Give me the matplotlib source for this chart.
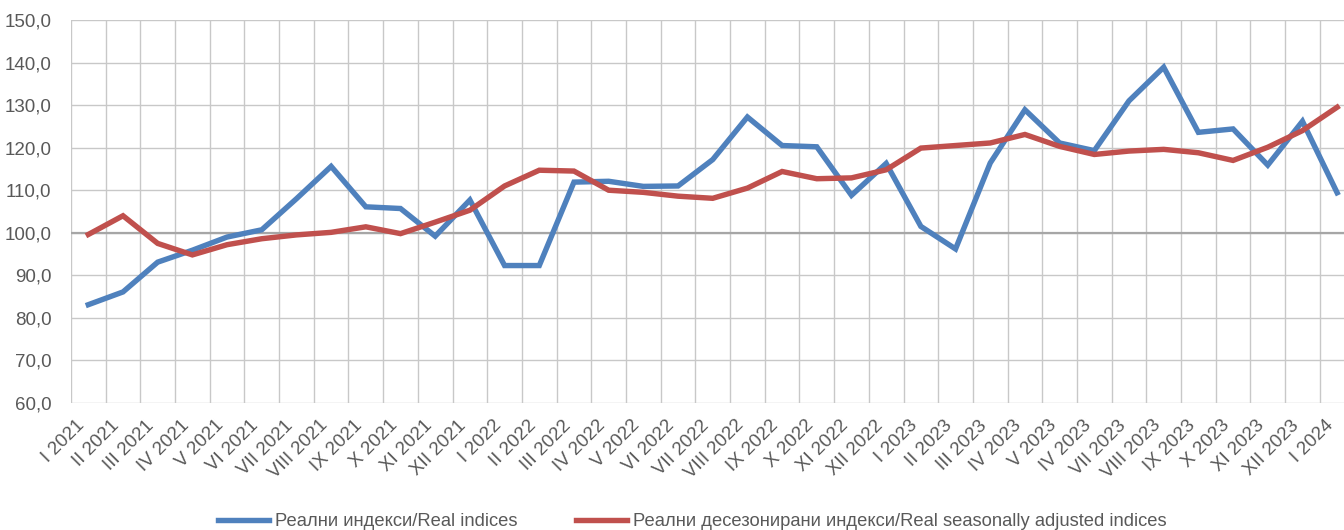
import matplotlib
matplotlib.use("Agg")
import matplotlib.pyplot as plt
from matplotlib.ticker import FuncFormatter, MultipleLocator

plt.rcParams.update({"font.family": ["Liberation Sans", "DejaVu Sans"],
                     "font.size": 13.5})

months = ["I 2021", "II 2021", "III 2021", "IV 2021", "V 2021", "VI 2021", "VII 2021",
          "VIII 2021", "IX 2021", "X 2021", "XI 2021", "XII 2021",
          "I 2022", "II 2022", "III 2022", "IV 2022", "V 2022", "VI 2022", "VII 2022",
          "VIII 2022", "IX 2022", "X 2022", "XI 2022", "XII 2022",
          "I 2023", "II 2023", "III 2023", "IV 2023", "V 2023", "IV 2023", "VII 2023",
          "VIII 2023", "IX 2023", "X 2023", "XI 2023", "XII 2023", "I 2024"]
real = [83.1, 86.1, 93.1, 95.9, 99.0, 100.7, 108.0, 115.6, 106.1, 105.7, 99.2, 107.7,
        92.3, 92.3, 111.9, 112.1, 110.9, 111.0, 117.2, 127.2, 120.5, 120.2, 108.8, 116.3,
        101.5, 96.2, 116.4, 128.9, 121.1, 119.3, 131.0, 138.9, 123.6, 124.4, 115.9, 126.2,
        109.4]
seas_adj = [99.6, 104.0, 97.5, 94.8, 97.2, 98.6, 99.5, 100.1, 101.4, 99.8, 102.5, 105.3,
            111.0, 114.7, 114.5, 110.0, 109.5, 108.6, 108.1, 110.5, 114.4, 112.7, 112.9, 114.8,
            119.9, 120.5, 121.1, 123.1, 120.3, 118.4, 119.2, 119.6, 118.8, 117.0, 120.1, 124.0,
            129.5]

BLUE, RED, TXT = "#4f81bd", "#c0504d", "#595959"

fig = plt.figure(figsize=(13.44, 5.30), dpi=100)
ax = fig.add_axes([0.0528, 0.2396, 0.955, 0.7227])
x = range(len(months))
ax.plot(x, real, color=BLUE, lw=3.9, solid_joinstyle="miter", label="Реални индекси/Real indices", zorder=3)
ax.plot(x, seas_adj, color=RED, lw=3.9, solid_joinstyle="miter",
        label="Реални десезонирани индекси/Real seasonally adjusted indices", zorder=3)

ax.set_xlim(-0.5, len(months) - 0.5)
ax.set_ylim(60, 150)
ax.yaxis.set_major_locator(MultipleLocator(10))
ax.yaxis.set_major_formatter(FuncFormatter(lambda v, p: f"{v:.1f}".replace(".", ",")))
ax.set_xticks(list(x))
ax.set_xticklabels(months, rotation=45, ha="right", rotation_mode="default")
ax.set_xticks([i - 0.5 for i in range(len(months) + 1)], minor=True)
ax.grid(True, which="minor", axis="x", color="#c8c8c8", lw=1.0)
ax.grid(True, which="major", axis="y", color="#c8c8c8", lw=1.0)
ax.axhline(100, color="#a6a6a6", lw=1.6, zorder=2)
ax.tick_params(axis="both", which="both", length=0, colors=TXT, labelsize=13.5)
ax.tick_params(axis="y", pad=14)
ax.tick_params(axis="x", pad=10)
for s in ax.spines.values():
    s.set_visible(False)
ax.set_axisbelow(True)

fig.legend(loc="lower center", bbox_to_anchor=(0.515, -0.032), ncol=2, frameon=False,
           handlelength=2.8, handletextpad=0.3, columnspacing=3.2, labelcolor=TXT, fontsize=13.2)

fig.savefig("out.png", dpi=100)
